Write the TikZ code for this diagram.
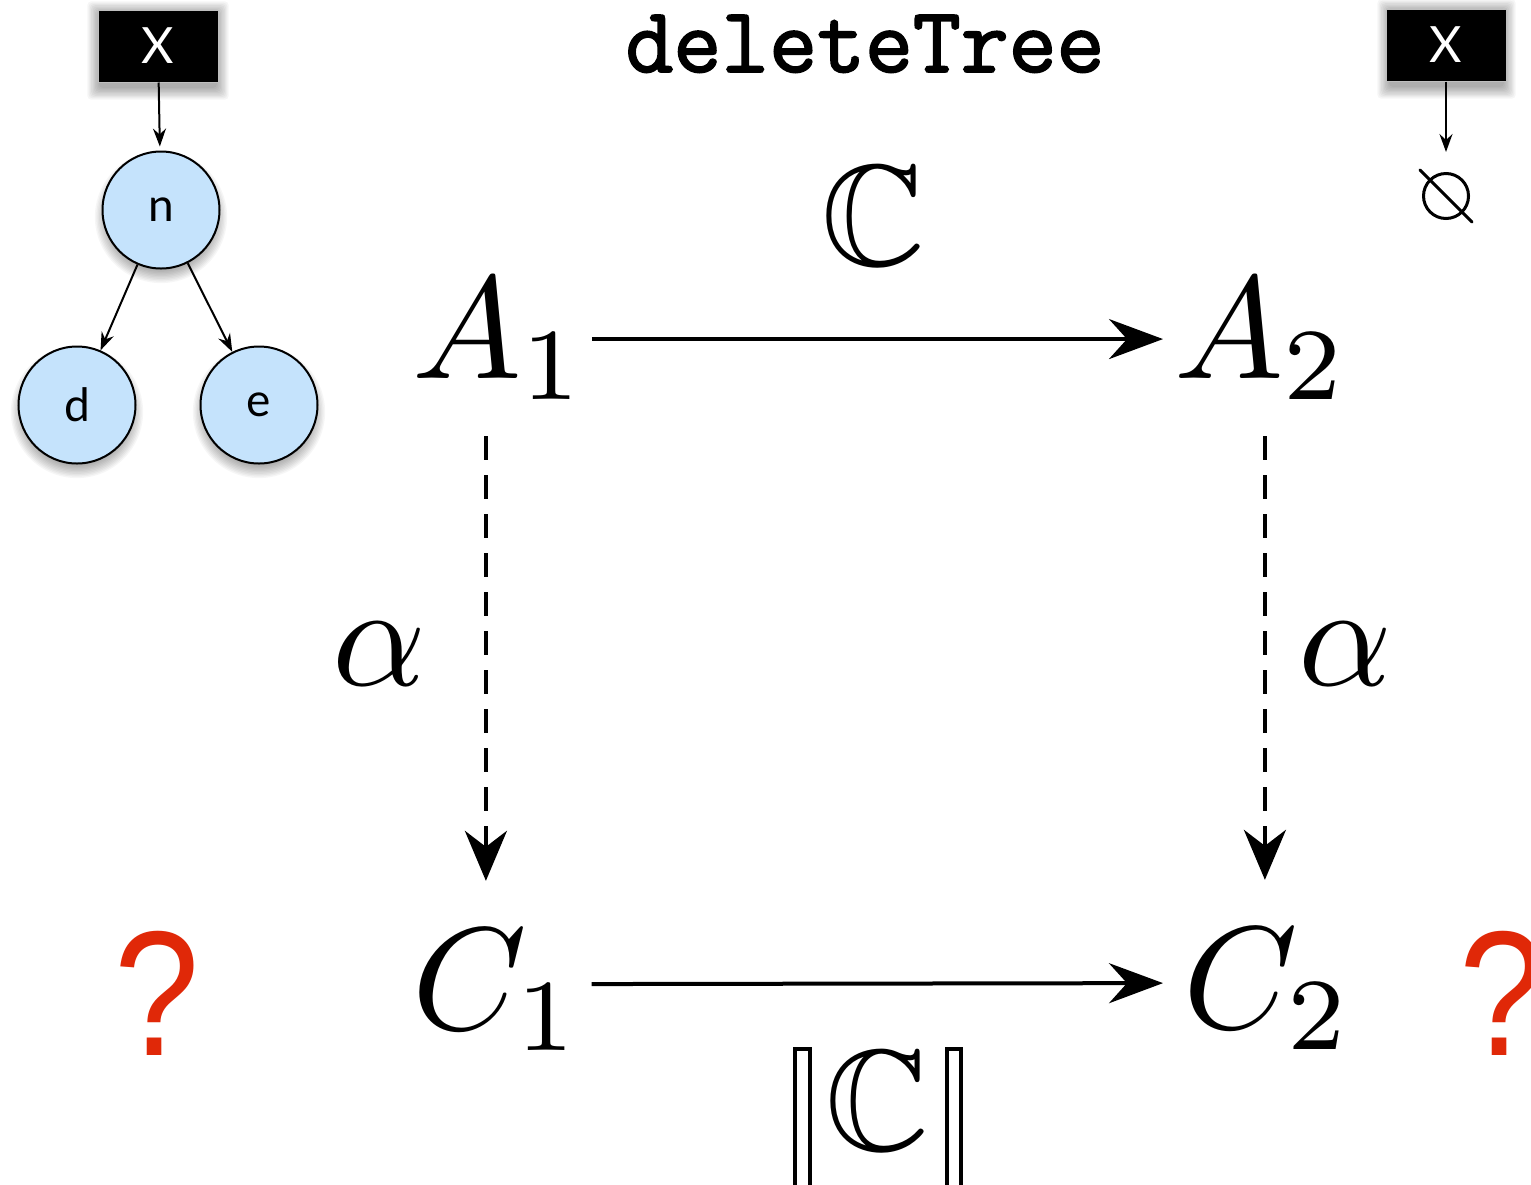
\documentclass[tikz,border=0pt]{standalone}
\usepackage{amssymb}
\usepackage{graphicx}
\usepackage{fontspec}
\usetikzlibrary{arrows.meta}
\newfontfamily\labelfont{Lato}
\newfontfamily\codefont{Latin Modern Mono}[FakeBold=2]
\newfontfamily\qfont{Liberation Sans}
\definecolor{nodeblue}{RGB}{197,227,252}
\definecolor{qred}{RGB}{224,40,8}

% large math set at 10pt and scaled up
\newcommand\hugemath[1]{\scalebox{7.3}{$#1$}}
\newcommand\hugebb[1]{\scalebox{7.2}{$#1$}}
\newcommand\narrowq{\scalebox{0.86}[1]{?}}

% soft shadow under a circle: centre x, centre y, radius
\newcommand\circshadow[3]{%
  \foreach \k in {0,...,9}{\fill[black,opacity=0.035] (#1,#2+7) circle[radius=#3-5+\k*1.4];}}
% soft shadow under a box: x1, y1, x2, y2
\newcommand\boxshadow[4]{%
  \foreach \k in {0,...,9}{\fill[black,opacity=0.035,rounded corners=2pt]
    (#1-\k*1.3+1,#2+3-\k*1.3) rectangle (#3+\k*1.3-1,#4+6+\k*1.3);}}

\begin{document}
\begin{tikzpicture}[x=0.5pt,y=-0.5pt,
  treenode/.style={circle, draw=black, line width=1pt, fill=nodeblue,
    minimum size=58.5pt, inner sep=0pt, font=\labelfont\fontsize{23}{23}\selectfont},
  varbox/.style={rectangle, fill=black, draw=black!25, line width=0.5pt,
    minimum width=60pt, minimum height=36pt, inner sep=0pt, text=white,
    font=\labelfont\fontsize{25}{25}\selectfont},
  treearrow/.style={-{Stealth[length=9pt,width=6.5pt,inset=3pt]}, line width=1pt},
  maparrow/.style={-{Stealth[length=27pt,width=20pt,inset=9pt]}, line width=2pt},
  absarrow/.style={-{Stealth[length=25pt,width=21pt,inset=8pt]}, line width=2pt,
    dash pattern=on 12pt off 7.5pt},
  mathbig/.style={inner sep=0pt},
  bbsym/.style={inner sep=0pt, anchor=base},
  query/.style={inner sep=0pt, anchor=base, text=qred, font=\qfont\fontsize{89}{89}\selectfont}]

\clip (0,0) rectangle (1531,1184);
\fill[white] (0,0) rectangle (1531,1184);

% ---- heap before: variable x points to the tree n(d,e)
\boxshadow{98}{10}{218}{82}
\circshadow{161}{210}{58.5}
\circshadow{77}{405}{58.5}
\circshadow{259}{405}{58.5}
\node[varbox] (X1) at (158,46) {X};
\node[treenode] (n) at (161,210) {n};
\node[treenode] (d) at (77,405) {d};
\node[treenode] (e) at (259,405) {e};
\draw[treearrow, shorten >=2pt] (X1) -- (n);
\draw[treearrow] (n) -- (d);
\draw[treearrow] (n) -- (e);

% ---- heap after: x points to nil
\boxshadow{1388}{8}{1505}{81}
\node[varbox] (X2) at (1446,45) {X};
\node[circle, draw=black, line width=1.5pt, minimum size=22.5pt, inner sep=0pt] (nil) at (1446,196) {};
\draw[line width=1.5pt, line cap=round, shorten <=-6.5pt, shorten >=-6.5pt] (nil.north west) -- (nil.south east);
\draw[treearrow, shorten >=10pt] (X2) -- (nil);

% ---- title
\node[anchor=base, inner sep=0pt, font=\codefont\fontsize{46.5}{47}\selectfont] (title) at (865,72) {deleteTree};

% ---- commuting square
\node[mathbig, anchor=base west] (A1) at (412,378) {\hugemath{A_1}};
\node[mathbig, anchor=base west] (A2) at (1174,378) {\hugemath{A_2}};
\node[mathbig, anchor=base west] (C1) at (412,1029) {\hugemath{C_1}};
\node[mathbig, anchor=base west] (C2) at (1183,1028) {\hugemath{C_2}};

\node[bbsym] (Cbb) at (873,265) {\hugebb{\mathbb{C}}};
\node[bbsym] (semC) at (877,1150) {\hugebb{\mathbb{C}}};
\draw[line width=2pt] (795,1250) -- (795,1049) -- (810,1049) -- (810,1250);
\draw[line width=2pt] (947,1250) -- (947,1049) -- (961,1049) -- (961,1250);

\node[mathbig, anchor=base] (aL) at (379,685) {\hugemath{\alpha}};
\node[mathbig, anchor=base] (aR) at (1345,685) {\hugemath{\alpha}};

\draw[maparrow, shorten <=2pt, shorten >=5.5pt] (A1.east) -- (A2.west);
\draw[maparrow, shorten <=4.5pt, shorten >=10pt] ([yshift=3pt]C1.east) -- ([yshift=3pt]C2.west);
\draw[absarrow, shorten <=18pt, shorten >=24pt] ([xshift=-7pt]A1.south) -- ([xshift=-7pt]A1.south |- C1.north);
\draw[absarrow, shorten <=18pt, shorten >=24pt] ([xshift=1.5pt]A2.south) -- ([xshift=1.5pt]A2.south |- C2.north);

% ---- open questions
\node[query] (q1) at (157,1055) {\narrowq};
\node[query] (q2) at (1502,1055) {\narrowq};
\end{tikzpicture}
\end{document}
